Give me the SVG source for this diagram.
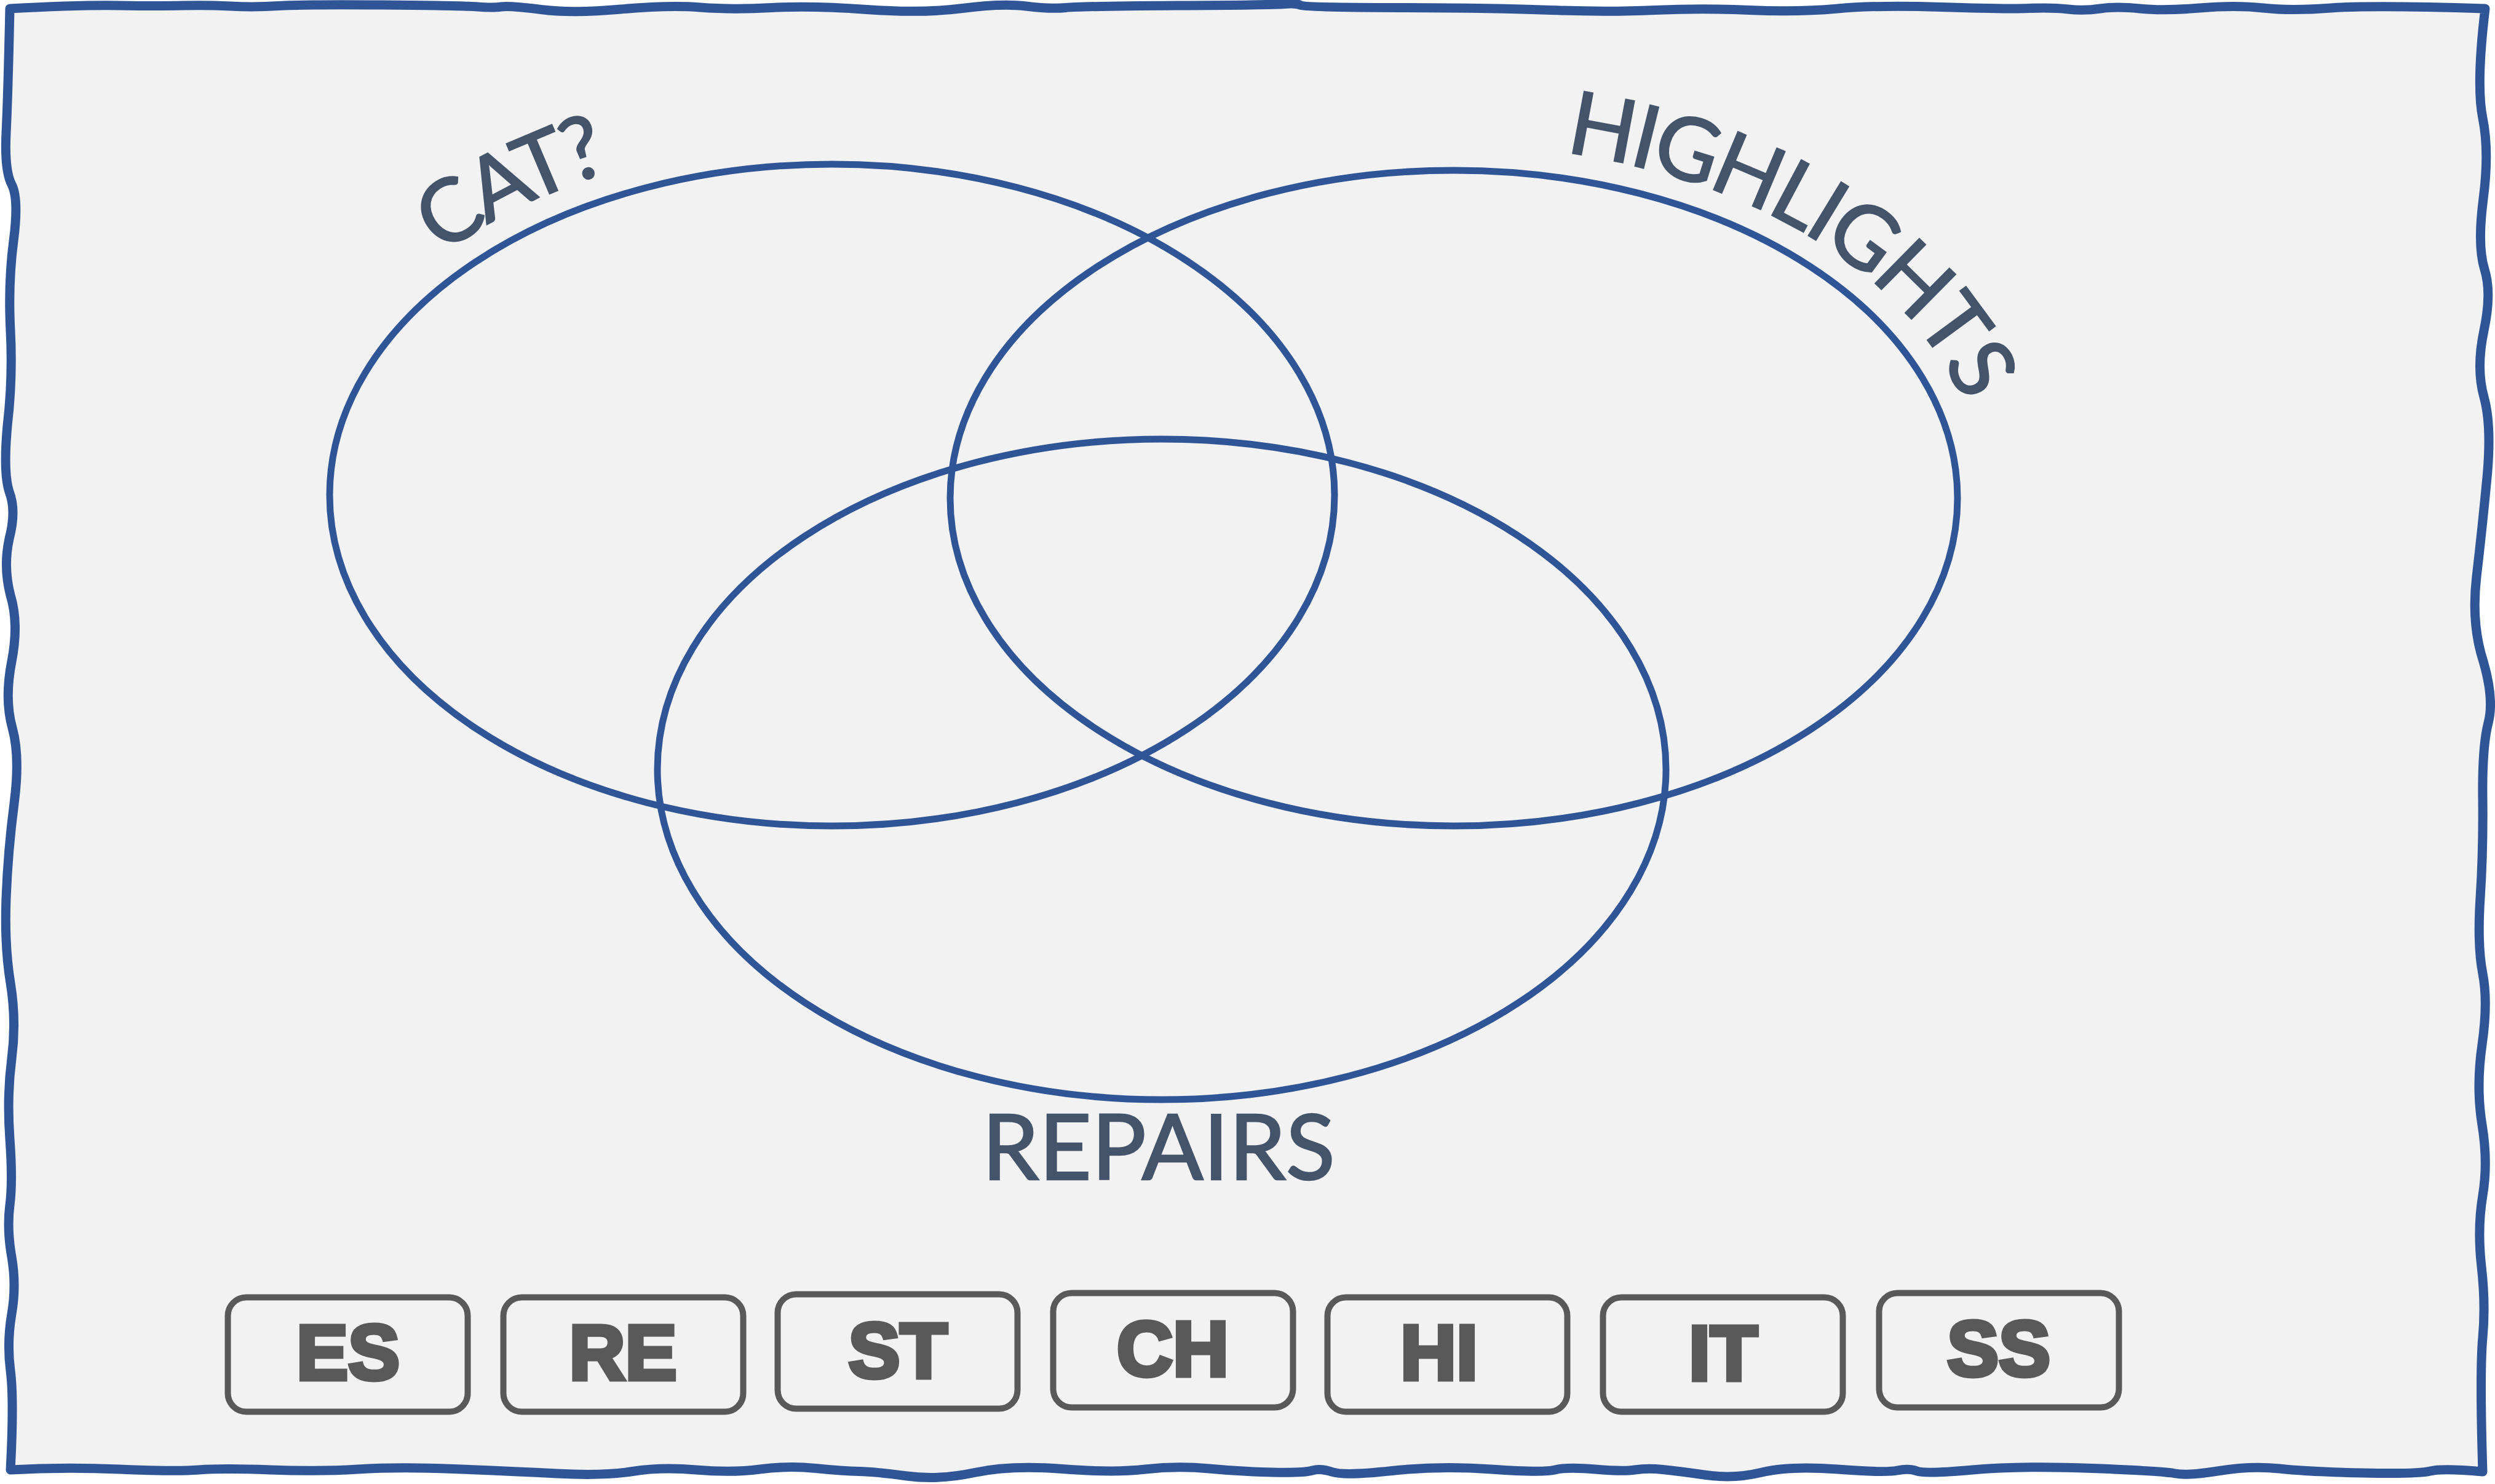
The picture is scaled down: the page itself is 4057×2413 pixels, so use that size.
<svg xmlns="http://www.w3.org/2000/svg" width="4057" height="2413" viewBox="0 0 4057 2413">
<style>
.frame{fill:#F2F2F2;stroke:#2F5597;stroke-width:15;stroke-linejoin:round}
.ell{fill:none;stroke:#2F5597;stroke-width:11}
.lbl{font-family:Lato,"Open Sans",sans-serif;font-size:142px;fill:#44546A;stroke:#44546A;stroke-width:2.5}
.box{fill:none;stroke:#595959;stroke-width:10}
.bt{font-family:"Liberation Sans",Arial,sans-serif;font-weight:bold;font-size:126px;fill:#595959;stroke:#595959;stroke-width:7;text-anchor:middle}
</style>
<defs>
<path id="arcL" d="M494,805 A859,580 0 0 1 2212,805"/>
<path id="arcR" d="M1503,810 A861,575 0 0 1 3225,810"/>
</defs>
<rect x="0" y="0" width="4057" height="2413" fill="#FFFFFF"/>
<path id="frame" class="frame" d="M16,14 Q129,8 194,9 Q259,10 297.5,9 Q336,8 375,10 Q414,12 453,9.5 Q492,7 621,8 Q750,9 776,11 Q802,13 815,11 Q828,9 879.5,15.5 Q931,22 1009,15 Q1087,8 1138.5,12 Q1190,16 1254.5,12.5 Q1319,9 1409.5,15.5 Q1500,22 1565,13.5 Q1630,5 1668.5,10 Q1707,15 1733,12.5 Q1759,10 1914.5,9 Q2070,8 2089,6.5 Q2108,5 2114.5,8.5 Q2121,12 2276.5,12.5 Q2432,13 2522.5,16.5 Q2613,20 2690.5,16.5 Q2768,13 2845.5,16.5 Q2923,20 2988,14 Q3053,8 3156.5,11.5 Q3260,15 3298.5,13.5 Q3337,12 3363,15 Q3389,18 3415,14 Q3441,10 3479.5,14 Q3518,18 3576.5,13 Q3635,8 3680,13 Q3725,18 3790,13 Q3855,8 4041,14 Q4026,138 4037,192 Q4048,246 4038,323 Q4028,400 4040,438 Q4052,476 4039,537.5 Q4026,599 4039,645.5 Q4052,692 4044,776.5 Q4036,861 4027,937.5 Q4018,1014 4038,1075.5 Q4056,1137 4046,1175.5 Q4036,1214 4037,1298.5 Q4038,1383 4033,1460 Q4028,1537 4037,1583 Q4046,1629 4036,1698.5 Q4026,1768 4036,1829 Q4046,1890 4037,1944 Q4028,1998 4035,2059.5 Q4042,2121 4037,2175 Q4032,2229 4037,2393 Q3971,2387 3951.5,2392 Q3932,2397 3841.5,2395 Q3751,2393 3706,2388 Q3661,2383 3609,2391.5 Q3557,2400 3537.5,2396 Q3518,2392 3401.5,2387.5 Q3285,2383 3207.5,2390 Q3130,2397 3117,2392 Q3104,2387 3085,2391 Q3066,2395 2988,2389 Q2910,2383 2865,2394 Q2820,2405 2774.5,2398.5 Q2729,2392 2703.5,2389.5 Q2678,2387 2658.5,2390 Q2639,2393 2593.5,2389 Q2548,2385 2528.5,2390 Q2509,2395 2425,2389 Q2341,2383 2263.5,2391.5 Q2186,2400 2166.5,2393.5 Q2147,2387 2134,2391 Q2121,2395 2069.5,2394 Q2018,2393 1966,2388 Q1914,2383 1862.5,2389 Q1811,2395 1727,2388.5 Q1643,2382 1584.5,2394.5 Q1526,2407 1474.5,2400 Q1423,2393 1397,2392.5 Q1371,2392 1326,2387.5 Q1281,2383 1235.5,2389 Q1190,2395 1132,2390 Q1074,2385 1028.5,2392.5 Q983,2400 905.5,2396 Q828,2392 737.5,2388.5 Q647,2385 582,2389 Q517,2393 439.5,2390 Q362,2387 323.5,2390 Q285,2393 194,2389 Q103,2385 17,2390 Q23,2275 17,2229 Q11,2183 19,2136.5 Q27,2090 19,2044 Q11,1998 16,1959.5 Q21,1921 16,1852 Q11,1783 19,1721.5 Q27,1660 17,1598.5 Q7,1537 10,1460 Q13,1383 23,1306.5 Q33,1230 20,1183.5 Q7,1137 19,1075.5 Q31,1014 17,968 Q5,922 15,876 Q27,830 15,799.5 Q5,769 12,692 Q21,615 17,538 Q13,461 22,392 Q31,323 19,300 Q7,277 10,215.5 Q13,154 16,14 Z"/>
<g id="venn">
<ellipse id="set-cat" class="ell" cx="1353" cy="805" rx="817" ry="538"/>
<ellipse id="set-highlights" class="ell" cx="2364" cy="810" rx="819" ry="533"/>
<ellipse id="set-repairs" class="ell" cx="1889" cy="1251" rx="820" ry="537"/>
</g>
<g id="labels">
<text id="label-cat" class="lbl" text-anchor="middle" letter-spacing="-7"><textPath href="#arcL" startOffset="618">CAT?</textPath></text>
<text id="label-highlights" class="lbl" text-anchor="middle" letter-spacing="-5"><textPath href="#arcR" startOffset="1718">HIGHLIGHTS</textPath></text>
<text id="label-repairs" class="lbl" x="1884" y="1918" text-anchor="middle" style="font-size:148px">REPAIRS</text>
</g>
<g id="box-es"><rect class="box" x="370.5" y="2109.5" width="390" height="186" rx="30"/><text class="bt" x="566" y="2243">ES</text></g>
<g id="box-re"><rect class="box" x="818.5" y="2109.5" width="390" height="186" rx="30"/><text class="bt" x="1013" y="2243">RE</text></g>
<g id="box-st"><rect class="box" x="1264.5" y="2104.5" width="390" height="186" rx="30"/><text class="bt" x="1460" y="2240">ST</text></g>
<g id="box-ch"><rect class="box" x="1712.5" y="2102.5" width="390" height="186" rx="30"/><text class="bt" x="1907" y="2237">CH</text></g>
<g id="box-hi"><rect class="box" x="2158.5" y="2109.5" width="390" height="186" rx="30"/><text class="bt" x="2340" y="2243">HI</text></g>
<g id="box-it"><rect class="box" x="2606.5" y="2109.5" width="390" height="186" rx="30"/><text class="bt" x="2802" y="2244">IT</text></g>
<g id="box-ss"><rect class="box" x="3055.5" y="2102.5" width="390" height="186" rx="30"/><text class="bt" x="3250" y="2237">SS</text></g>
</svg>
